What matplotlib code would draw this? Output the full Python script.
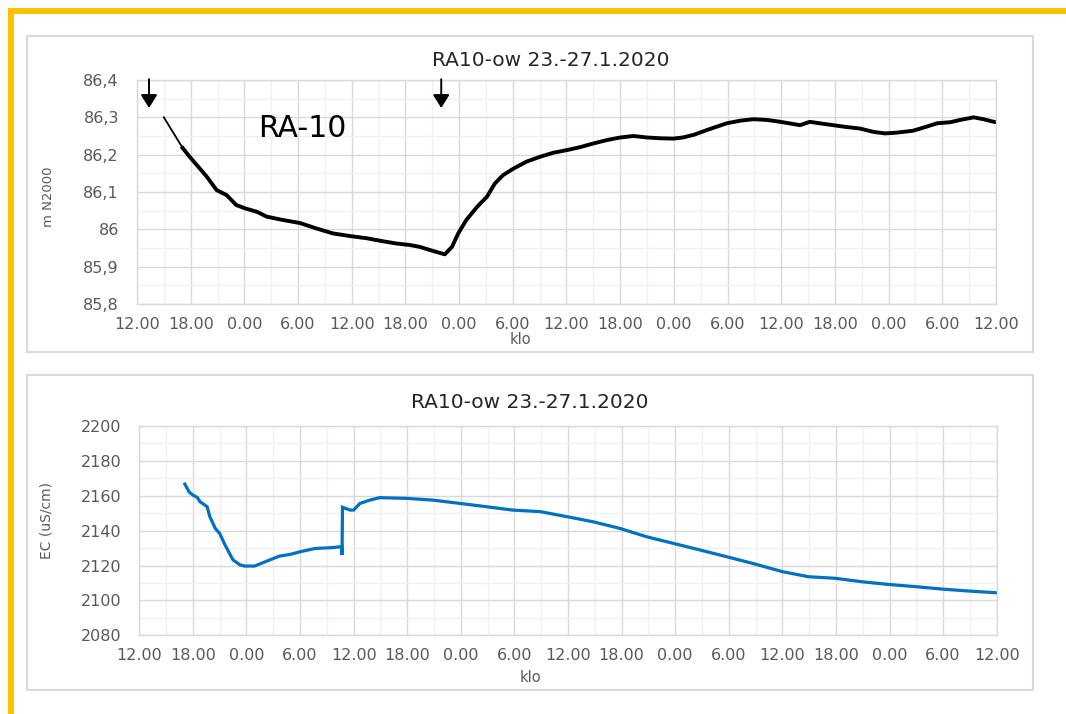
import matplotlib
matplotlib.use("Agg")
import matplotlib.pyplot as plt
from matplotlib.patches import Rectangle
from matplotlib.ticker import MultipleLocator, FuncFormatter, FixedLocator

plt.rcParams['font.family'] = ['DejaVu Sans']

TITLE = "RA10-ow 23.-27.1.2020"
X_LABEL = "klo"

# hours since 23.1. 12:00
x_tick_hours = list(range(0, 97, 6))
x_tick_labels = ["12.00", "18.00", "0.00", "6.00"] * 4 + ["12.00"]

# water level, m N2000
level_hours = [3.0, 5.1, 5.9, 7.8, 8.9, 10.0, 11.1, 12.1, 13.4, 14.5, 16.3, 18.2,
               20.1, 21.9, 23.8, 25.7, 27.5, 29.0, 30.5, 31.6, 33.1, 34.4, 35.2,
               35.9, 36.8, 38.0, 39.1, 40.0, 40.9, 42.1, 43.5, 45.0, 46.5, 48.0,
               49.5, 51.0, 52.5, 54.0, 55.5, 57.0, 58.4, 59.9, 61.0, 62.2, 63.7,
               65.9, 67.4, 68.9, 70.4, 71.9, 74.1, 75.2, 76.3, 77.8, 79.3, 80.8,
               82.3, 83.6, 84.9, 86.7, 88.1, 89.4, 90.9, 92.0, 93.5, 94.6, 95.4, 96.0]
level_values = [86.300, 86.218, 86.194, 86.141, 86.105, 86.092, 86.065, 86.056,
                86.047, 86.034, 86.025, 86.017, 86.002, 85.989, 85.982, 85.976,
                85.968, 85.962, 85.958, 85.953, 85.942, 85.933, 85.953, 85.989,
                86.025, 86.060, 86.087, 86.123, 86.145, 86.163, 86.181, 86.194,
                86.205, 86.212, 86.220, 86.230, 86.239, 86.246, 86.250, 86.246,
                86.244, 86.243, 86.246, 86.253, 86.266, 86.284, 86.291, 86.295,
                86.293, 86.288, 86.279, 86.288, 86.284, 86.279, 86.274, 86.270,
                86.261, 86.257, 86.259, 86.264, 86.274, 86.284, 86.287, 86.293,
                86.300, 86.295, 86.290, 86.287]

# electrical conductivity, uS/cm
ec_hours = [5.1, 5.6, 6.0, 6.5, 6.8, 7.6, 7.9, 8.5, 9.0, 9.6, 10.2, 10.5, 11.3,
            11.8, 12.9, 13.5, 14.6, 15.7, 16.9, 18.0, 19.7, 21.4, 22.6, 22.65,
            22.7, 22.75, 23.6, 24.0, 24.7, 25.8, 26.9, 30.0, 32.9, 35.9, 38.9,
            41.8, 44.9, 47.9, 50.8, 53.8, 56.8, 59.8, 62.8, 65.8, 68.7, 72.0,
            74.9, 77.9, 80.9, 83.8, 86.9, 89.9, 92.8, 95.9]
ec_values = [2166.7, 2162.0, 2160.4, 2159.0, 2156.6, 2153.7, 2148.0, 2141.3,
             2138.4, 2131.8, 2126.0, 2123.2, 2120.3, 2119.7, 2119.7, 2120.9,
             2123.2, 2125.4, 2126.4, 2127.9, 2129.8, 2130.2, 2130.8, 2131.0,
             2126.0, 2153.4, 2151.8, 2151.8, 2155.6, 2157.5, 2158.9, 2158.5,
             2157.5, 2155.6, 2153.7, 2151.8, 2150.9, 2148.0, 2145.1, 2141.3,
             2136.5, 2132.7, 2128.9, 2125.0, 2121.2, 2116.5, 2113.6, 2112.7,
             2110.7, 2109.2, 2107.9, 2106.5, 2105.4, 2104.4]

# pumping start / stop markers (hours)
arrow_hours = [1.34, 34.0]

GRID_MAJOR = "#d9d9d9"
GRID_MINOR = "#f0f0f0"
TICK_COLOR = "#595959"
FRAME = "#ffc000"

fig = plt.figure(figsize=(10.66, 7.14), dpi=100)
W, H = 1066, 714


def fig_box(x0, y0, x1, y1):
    """Pixel box (top-left origin) to figure fraction rect."""
    return [x0 / W, 1 - y1 / H, (x1 - x0) / W, (y1 - y0) / H]


# outer frame lines
fig.add_artist(Rectangle((8 / W, 1 - 14 / H), 1 - 8 / W, 6 / H,
                         transform=fig.transFigure, facecolor=FRAME,
                         edgecolor="none", zorder=0))
fig.add_artist(Rectangle((8 / W, 0), 6 / W, 1 - 8 / H,
                         transform=fig.transFigure, facecolor=FRAME,
                         edgecolor="none", zorder=0))

# chart panel borders
for (x0, y0, x1, y1) in [(27, 36, 1033, 352), (27, 375, 1033, 690)]:
    r = fig_box(x0, y0, x1, y1)
    fig.add_artist(Rectangle((r[0], r[1]), r[2], r[3], transform=fig.transFigure,
                             facecolor="none", edgecolor=GRID_MAJOR, lw=1.5,
                             zorder=0))


def style_axes(ax, ymin, ymax, ystep, fmt):
    ax.set_xlim(0, 96)
    ax.set_ylim(ymin, ymax)
    ax.xaxis.set_major_locator(FixedLocator(x_tick_hours))
    ax.set_xticklabels(x_tick_labels)
    ax.xaxis.set_minor_locator(MultipleLocator(3))
    ax.yaxis.set_major_locator(MultipleLocator(ystep))
    ax.yaxis.set_minor_locator(MultipleLocator(ystep / 2))
    ax.yaxis.set_major_formatter(FuncFormatter(fmt))
    ax.grid(which="major", color=GRID_MAJOR, lw=1.0)
    ax.grid(which="minor", color=GRID_MINOR, lw=1.0)
    ax.set_axisbelow(True)
    for s in ax.spines.values():
        s.set_color(GRID_MAJOR)
        s.set_linewidth(1.0)
    ax.tick_params(which="both", length=0, labelcolor=TICK_COLOR, labelsize=11.5)
    ax.tick_params(axis="x", pad=9)
    ax.tick_params(axis="y", pad=13)


def comma_fmt(v, _pos):
    s = f"{v:.1f}"
    if s.endswith(".0"):
        s = s[:-2]
    return s.replace(".", ",")


# water level chart
ax1 = fig.add_axes(fig_box(137, 80, 996, 304))
style_axes(ax1, 85.8, 86.4, 0.1, comma_fmt)
ax1.plot(level_hours, level_values, color="black", lw=1.3, solid_joinstyle="round")
ax1.plot(level_hours[1:], level_values[1:], color="black", lw=2.8,
         solid_joinstyle="round")
for h in arrow_hours:
    ax1.annotate("", xy=(h, 86.325), xytext=(h, 86.402),
                 arrowprops=dict(arrowstyle="-|>,head_width=0.5,head_length=0.8",
                                 color="black", lw=1.4, shrinkA=0, shrinkB=0),
                 annotation_clip=False)
ax1.text(13.5, 86.271, "RA-10", fontsize=21.5, color="black",
         ha="left", va="center")
ax1.set_ylabel("m N2000", fontsize=9.5, color=TICK_COLOR)
ax1.yaxis.set_label_coords(-0.095, 0.48)

fig.text(551 / W, 1 - 60 / H, TITLE, fontsize=14.5, color="#262626",
         ha="center", va="center")
fig.text(520 / W, 1 - 340 / H, X_LABEL, fontsize=10.5, color=TICK_COLOR,
         ha="center", va="center")

# conductivity chart
ax2 = fig.add_axes(fig_box(139.3, 426, 996.7, 635.3))
style_axes(ax2, 2080, 2200, 20, lambda v, p: f"{v:.0f}")
ax2.plot(ec_hours, ec_values, color="#0070c0", lw=2.3, solid_joinstyle="miter")
ax2.set_ylabel("EC (uS/cm)", fontsize=10, color=TICK_COLOR)
ax2.yaxis.set_label_coords(-0.1, 0.55)

fig.text(530 / W, 1 - 403 / H, TITLE, fontsize=14.5, color="#262626",
         ha="center", va="center")
fig.text(530 / W, 1 - 678 / H, X_LABEL, fontsize=10.5, color=TICK_COLOR,
         ha="center", va="center")

fig.savefig("out.png", dpi=100)
